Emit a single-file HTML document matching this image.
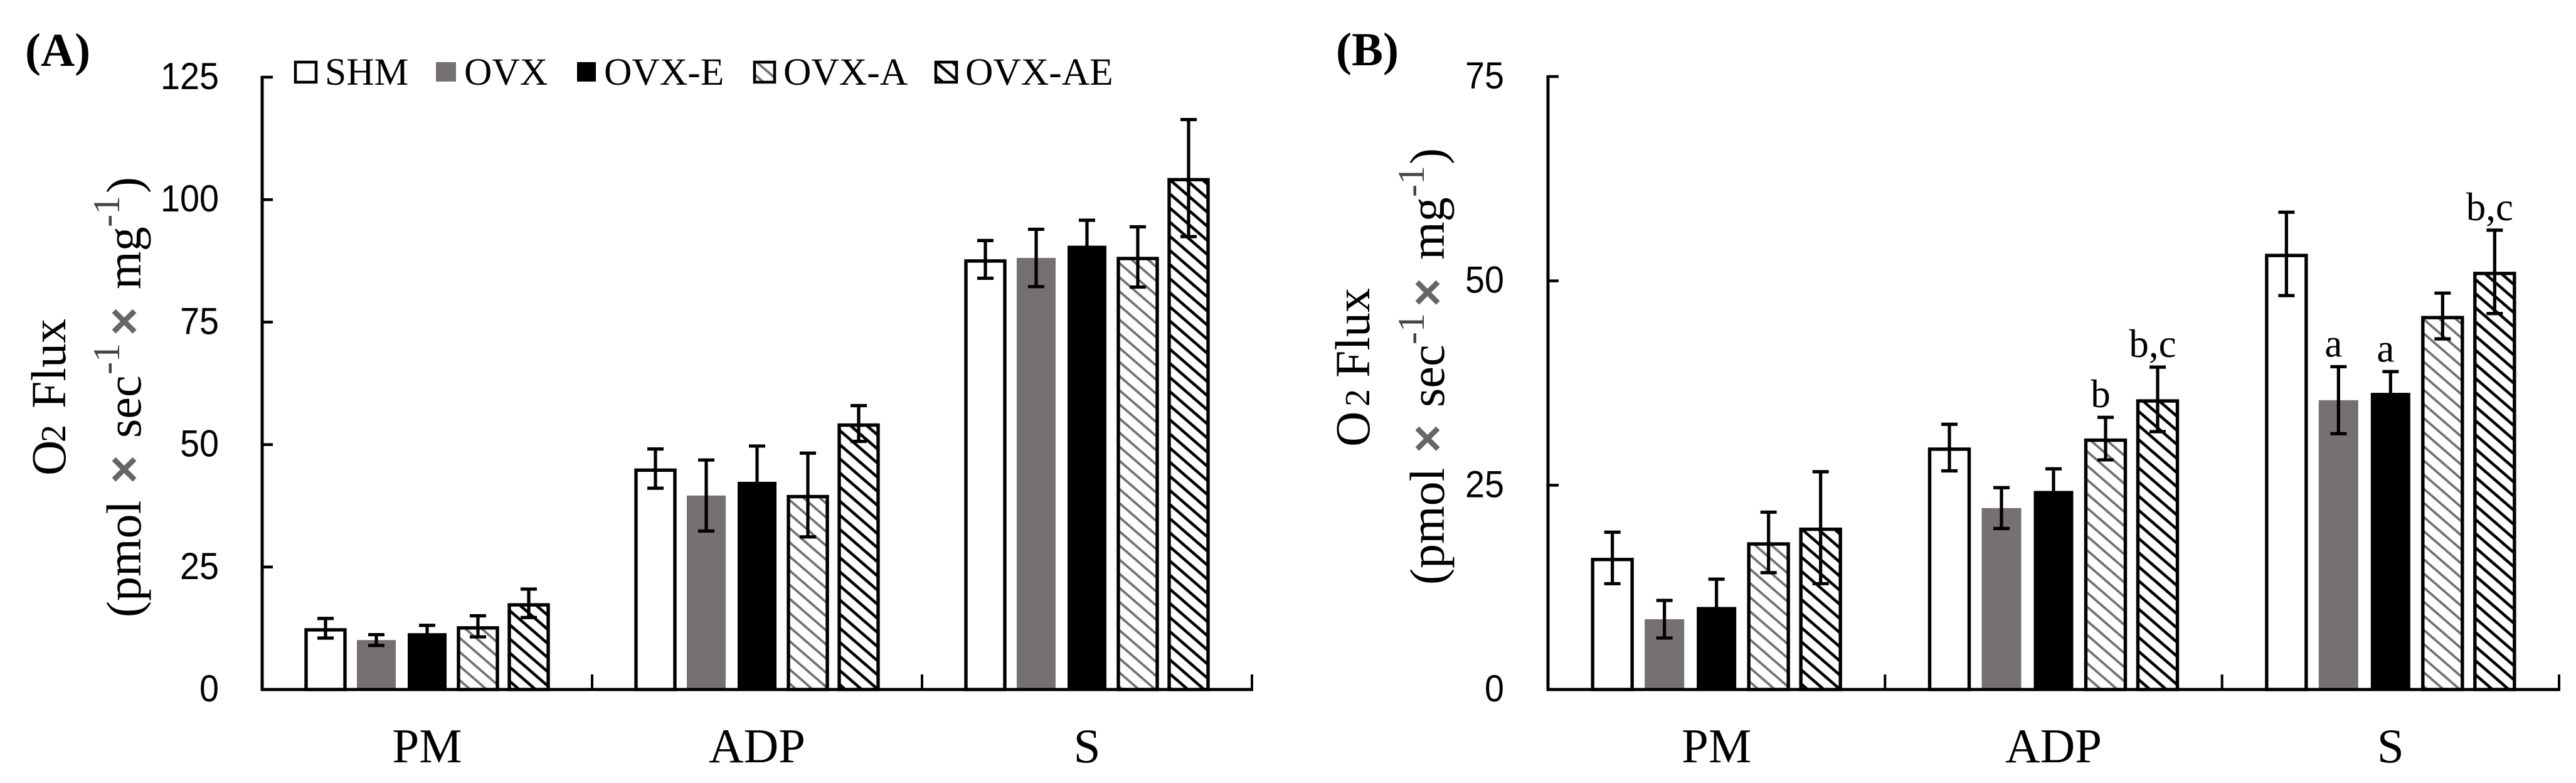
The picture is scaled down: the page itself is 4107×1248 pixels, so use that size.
<!DOCTYPE html>
<html lang="en">
<head>
<meta charset="utf-8">
<title>O2 Flux chart</title>
<style>
html,body{margin:0;padding:0;background:#fff;}
svg{display:block;}
.serif{font-family:"Liberation Serif",serif;fill:#000;}
.sans{font-family:"Liberation Sans",sans-serif;fill:#000;}
.times{font-family:"Liberation Sans",sans-serif;font-weight:bold;fill:#666;font-size:78px;}
.sup{fill:#444;font-size:60px;}
.t78{font-size:78px;}
.leg{font-size:61.5px;}
</style>
</head>
<body>
<svg id="figure" xmlns="http://www.w3.org/2000/svg" width="4107" height="1248" viewBox="0 0 4107 1248">
<defs>
<pattern id="hatch-gray" patternUnits="userSpaceOnUse" width="26" height="22.5">
<rect width="26" height="22.5" fill="#fff"/>
<path d="M-26 -22.5L52 45M-26 -45L52 22.5M-26 0L52 67.5" stroke="#767171" stroke-width="3.8" fill="none"/>
</pattern>
<pattern id="hatch-black" patternUnits="userSpaceOnUse" width="26" height="22.5">
<rect width="26" height="22.5" fill="#fff"/>
<path d="M-26 -22.5L52 45M-26 -45L52 22.5M-26 0L52 67.5" stroke="#000" stroke-width="4.6" fill="none"/>
</pattern>
</defs>
<rect width="4107" height="1248" fill="#fff"/>

<text class="serif" font-weight="bold" font-size="75" x="40" y="105">(A)</text>
<text class="serif" font-weight="bold" font-size="75" x="2130" y="104">(B)</text>

<g>
<g>
<rect x="471" y="99" width="33" height="32" fill="#fff" stroke="#000" stroke-width="4.5"/>
<text class="serif leg" x="518" y="135">SHM</text>
</g>
<g>
<rect x="695" y="99" width="32" height="31" fill="#767171"/>
<text class="serif leg" x="740" y="135">OVX</text>
</g>
<g>
<rect x="920" y="99" width="30" height="31" fill="#000"/>
<text class="serif leg" x="963" y="135">OVX-E</text>
</g>
<g>
<rect x="1203" y="99" width="32" height="32" fill="url(#hatch-gray)" stroke="#000" stroke-width="4.5"/>
<text class="serif leg" x="1249" y="135">OVX-A</text>
</g>
<g>
<rect x="1492" y="99" width="33" height="32" fill="url(#hatch-black)" stroke="#000" stroke-width="4.5"/>
<text class="serif leg" x="1539" y="135">OVX-AE</text>
</g>
</g>

<g transform="rotate(-90)">
<text class="serif t78"><tspan x="-758" y="104">O</tspan><tspan x="-705" y="104" font-size="56">2 </tspan><tspan x="-651" y="104">Flux</tspan></text>
<text class="serif t78"><tspan x="-984" y="224">(pmol</tspan><tspan x="-771" y="224" class="times">×</tspan><tspan x="-698" y="224">sec</tspan><tspan x="-597" y="190" class="sup">-1</tspan><tspan x="-535" y="224" class="times">×</tspan><tspan x="-461" y="224">mg</tspan><tspan x="-362" y="190" class="sup">-1</tspan><tspan x="-308" y="224">)</tspan></text>
</g>
<g transform="rotate(-90)">
<text class="serif t78"><tspan x="-712" y="2183">O</tspan><tspan x="-648" y="2183" font-size="56">2 </tspan><tspan x="-602" y="2183">Flux</tspan></text>
<text class="serif t78"><tspan x="-932" y="2302">(pmol</tspan><tspan x="-722" y="2302" class="times">×</tspan><tspan x="-649" y="2302">sec</tspan><tspan x="-549" y="2270" class="sup">-1</tspan><tspan x="-489" y="2302" class="times">×</tspan><tspan x="-414" y="2302">mg</tspan><tspan x="-314" y="2270" class="sup">-1</tspan><tspan x="-262" y="2302">)</tspan></text>
</g>
</svg>

<script>
// Shared categories and series
const categories = ['PM', 'ADP', 'S'];
const seriesNames = ['shm', 'ovx', 'ovx-e', 'ovx-a', 'ovx-ae'];

// Panel A tick labels and values (per category: PM, ADP, S)
const ticksA = [0, 25, 50, 75, 100, 125];
const shmA = [12.5, 45.1, 87.8];
const ovxA = [10.1, 39.6, 88.1];
const ovxEA = [11.5, 42.4, 90.6];
const ovxAA = [12.9, 39.7, 88.3];
const ovxAEA = [17.6, 54.3, 104.4];
const shmErrA = [2.0, 4.0, 3.85];
const ovxErrA = [1.1, 7.25, 5.85];
const ovxEErrA = [1.6, 7.3, 5.2];
const ovxAErrA = [2.15, 8.55, 6.15];
const ovxAEErrA = [2.9, 3.65, 11.95];

// Panel B tick labels and values (per category: PM, ADP, S)
const ticksB = [0, 25, 50, 75];
const shmB = [16.1, 29.6, 53.3];
const ovxB = [8.6, 22.2, 35.4];
const ovxEB = [10.1, 24.3, 36.3];
const ovxAB = [18.0, 30.7, 45.7];
const ovxAEB = [19.8, 35.5, 51.1];
const shmErrB = [3.15, 2.85, 5.1];
const ovxErrB = [2.3, 2.5, 4.1];
const ovxEErrB = [3.4, 2.7, 2.6];
const ovxAErrB = [3.7, 2.6, 2.8];
const ovxAEErrB = [6.85, 3.95, 5.1];

// Panel B significance letters
const noteTexts = ['b', 'b,c', 'a', 'a', 'b,c'];
const noteCategories = [1, 1, 2, 2, 2];
const noteSeries = [3, 4, 1, 2, 4];

const svg = document.getElementById('figure');
const NS = 'http://www.w3.org/2000/svg';

function make(tag, parent, props) {
  const el = document.createElementNS(NS, tag);
  for (const k in props) el.setAttribute(k, props[k]);
  parent.appendChild(el);
  return el;
}

function drawPanel(p) {
  const yOf = v => p.bottom - (v / p.maxValue) * (p.bottom - p.top);
  const band = (p.right - p.left) / categories.length;
  const xOf = (c, s) => p.left + band * (c + 0.5) + (s - 2) * p.spacing;

  const root = make('g', svg, {});
  
  

  // bars
  p.values.forEach((vals, s) => {
    vals.forEach((v, c) => {
      const cx = xOf(c, s);
      const yTop = yOf(v);
      let bar;
      if (s === 1 || s === 2) {
        bar = make('rect', root, {
          x: cx - p.barWidth / 2, y: yTop, width: p.barWidth, height: p.bottom - yTop,
          fill: s === 1 ? '#767171' : '#000'
        });
      } else {
        bar = make('rect', root, {
          x: cx - p.barWidth / 2, y: yTop + 2.5, width: p.barWidth, height: p.bottom - yTop - 2.5,
          fill: s === 0 ? '#fff' : (s === 3 ? 'url(#hatch-gray)' : 'url(#hatch-black)'),
          stroke: '#000', 'stroke-width': 5.4
        });
      }
      
      
    });
  });

  // error bars
  p.values.forEach((vals, s) => {
    vals.forEach((v, c) => {
      const cx = xOf(c, s);
      const e = p.errors[s][c];
      const hi = yOf(v + e);
      const lo = yOf(v - e);
      const err = make('path', root, {
        d: 'M' + cx + ' ' + hi + 'V' + lo + 'M' + (cx - 13) + ' ' + hi + 'H' + (cx + 13) + 'M' + (cx - 13) + ' ' + lo + 'H' + (cx + 13),
        stroke: '#000', 'stroke-width': 5.2, fill: 'none'
      });
      
      
    });
  });

  // y axis and ticks
  const yAxis = make('line', root, {
    x1: p.left, x2: p.left, y1: p.top - 2, y2: p.bottom + 2, stroke: '#000', 'stroke-width': 5
  });
  
  

  p.ticks.forEach(t => {
    const y = yOf(t);
    const tick = make('line', root, {
      x1: p.left, x2: p.left + 17, y1: y, y2: y, stroke: '#000', 'stroke-width': 4.5
    });
    
    
    const label = String(t);
    const txt = make('text', root, {
      x: p.labelRight, y: y + 19, 'text-anchor': 'end', class: 'sans', 'font-size': 60,
      textLength: 31 * label.length, lengthAdjust: 'spacingAndGlyphs'
    });
    txt.textContent = label;
    
    
  });

  // x axis, category ticks, labels
  const xAxis = make('line', root, {
    x1: p.left - 2, x2: p.right + 2, y1: p.bottom, y2: p.bottom, stroke: '#000', 'stroke-width': 5
  });
  
  

  categories.forEach((name, c) => {
    const tx = p.left + band * (c + 1);
    const tick = make('line', root, {
      x1: tx, x2: tx, y1: p.bottom - 24, y2: p.bottom, stroke: '#000', 'stroke-width': 4
    });
    
    
    const txt = make('text', root, {
      x: p.left + band * (c + 0.5), y: 1215, 'text-anchor': 'middle', class: 'serif', 'font-size': 77
    });
    txt.textContent = name;
    
    
  });

  // significance letters
  if (p.notes) {
    noteTexts.forEach((text, i) => {
      const c = noteCategories[i];
      const s = noteSeries[i];
      const txt = make('text', root, {
        x: xOf(c, s) - 8,
        y: yOf(p.values[s][c] + p.errors[s][c]) - 16,
        'text-anchor': 'middle', class: 'serif', 'font-size': 63
      });
      txt.textContent = text;
      
      
    });
  }
}

drawPanel({
  id: 'a', left: 418, right: 1996, top: 123, bottom: 1099, maxValue: 125,
  spacing: 81, barWidth: 62, labelRight: 349, ticks: ticksA,
  values: [shmA, ovxA, ovxEA, ovxAA, ovxAEA],
  errors: [shmErrA, ovxErrA, ovxEErrA, ovxAErrA, ovxAEErrA]
});
drawPanel({
  id: 'b', left: 2468, right: 4080, top: 122, bottom: 1099, maxValue: 75,
  spacing: 83, barWidth: 63, labelRight: 2398, ticks: ticksB, notes: true,
  values: [shmB, ovxB, ovxEB, ovxAB, ovxAEB],
  errors: [shmErrB, ovxErrB, ovxEErrB, ovxAErrB, ovxAEErrB]
});
</script>
</body>
</html>
